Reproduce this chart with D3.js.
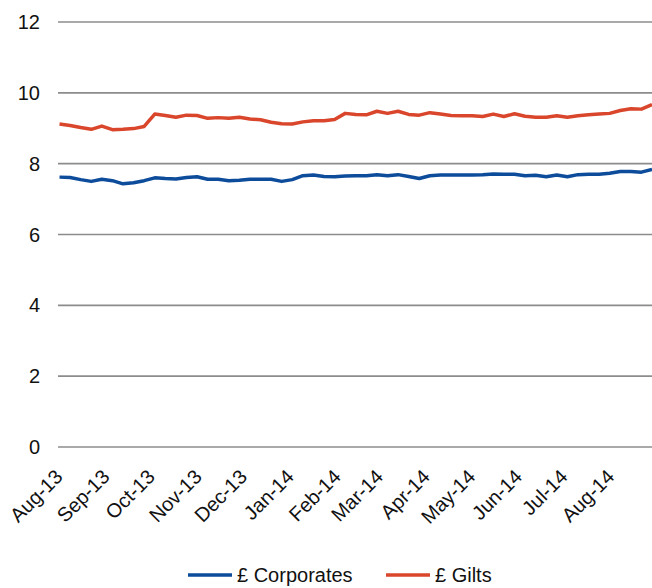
<!DOCTYPE html>
<html>
<head>
<meta charset="utf-8">
<script src="https://cdn.jsdelivr.net/npm/d3@7"></script>
<style>
  body { margin: 0; background: #fff; }
  svg { display: block; font-family: "Liberation Sans", Arial, sans-serif; }
</style>
</head>
<body>
<svg class="chart" width="652" height="588"></svg>
<script>
// weekly observations, Fridays from 2 Aug 2013 to 29 Aug 2014
const dates = d3.timeFriday.range(new Date(2013, 7, 1), new Date(2014, 7, 30));

const corporates = [
  7.62, 7.61, 7.55, 7.50, 7.56, 7.52, 7.43, 7.46, 7.52, 7.60,
  7.58, 7.57, 7.61, 7.63, 7.56, 7.56, 7.52, 7.53, 7.56, 7.56,
  7.56, 7.50, 7.55, 7.66, 7.68, 7.64, 7.63, 7.65, 7.66, 7.66,
  7.69, 7.66, 7.69, 7.64, 7.58, 7.66, 7.68, 7.68, 7.68, 7.68,
  7.69, 7.71, 7.70, 7.70, 7.66, 7.67, 7.63, 7.68, 7.63, 7.69,
  7.70, 7.70, 7.73, 7.78, 7.78, 7.76, 7.84
];

const gilts = [
  9.12, 9.08, 9.02, 8.97, 9.06, 8.96, 8.97, 8.99, 9.05, 9.40,
  9.36, 9.31, 9.37, 9.36, 9.28, 9.30, 9.28, 9.31, 9.26, 9.24,
  9.17, 9.13, 9.12, 9.18, 9.21, 9.21, 9.25, 9.42, 9.39, 9.38,
  9.48, 9.42, 9.48, 9.39, 9.37, 9.44, 9.40, 9.36, 9.35, 9.35,
  9.33, 9.40, 9.33, 9.41, 9.34, 9.31, 9.31, 9.35, 9.31, 9.35,
  9.38, 9.40, 9.42, 9.50, 9.55, 9.54, 9.67
];

const yTicks = [0, 2, 4, 6, 8, 10, 12];
const monthTicks = d3.timeMonth.range(new Date(2013, 7, 1), new Date(2014, 7, 2));

const series = [
  { name: "£ Corporates", values: corporates, color: "#0d4c9b" },
  { name: "£ Gilts", values: gilts, color: "#d9462b" }
];

const svg = d3.select(".chart");

const x = d3.scaleTime()
  .domain([new Date(2013, 7, 1), new Date(2014, 7, 29)])
  .range([58, 652]);

const y = d3.scaleLinear()
  .domain([0, 12])
  .range([447, 22]);

// gridlines
svg.append("g")
  .selectAll("line")
  .data(yTicks)
  .enter()
  .append("line")
  .attr("x1", 58)
  .attr("x2", 652)
  .attr("y1", (d) => y(d))
  .attr("y2", (d) => y(d))
  .attr("stroke", "#8c8c8c")
  .attr("stroke-width", 1.6);

// y labels
svg.append("g")
  .selectAll("text")
  .data(yTicks)
  .enter()
  .append("text")
  .attr("x", 40)
  .attr("y", (d) => y(d))
  .attr("dy", "0.35em")
  .attr("text-anchor", "end")
  .attr("font-size", 20)
  .attr("fill", "#111")
  .text((d) => d);

// x labels, rotated
const fmt = d3.timeFormat("%b-%y");
svg.append("g")
  .selectAll("text")
  .data(monthTicks)
  .enter()
  .append("text")
  .attr("transform", (d) => `translate(${x(d) + 1}, 473) rotate(-45)`)
  .attr("dy", "0.35em")
  .attr("text-anchor", "end")
  .attr("font-size", 20)
  .attr("fill", "#111")
  .text((d) => fmt(d));

// lines
const line = d3.line()
  .x((d, i) => x(dates[i]))
  .y((d) => y(d));

svg.append("g")
  .selectAll("path")
  .data(series)
  .enter()
  .append("path")
  .attr("d", (d) => line(d.values))
  .attr("fill", "none")
  .attr("stroke", (d) => d.color)
  .attr("stroke-width", 3.5)
  .attr("stroke-linejoin", "round");

// legend
const legend = svg.append("g")
  .selectAll("g")
  .data(series)
  .enter()
  .append("g")
  .attr("transform", (d, i) => `translate(${188 + i * 198}, 575)`);

legend.append("line")
  .attr("x1", 0)
  .attr("x2", 44)
  .attr("stroke", (d) => d.color)
  .attr("stroke-width", 3.5);

legend.append("text")
  .attr("x", 49)
  .attr("y", 7)
  .attr("font-size", 20)
  .attr("fill", "#111")
  .text((d) => d.name);
</script>
</body>
</html>
